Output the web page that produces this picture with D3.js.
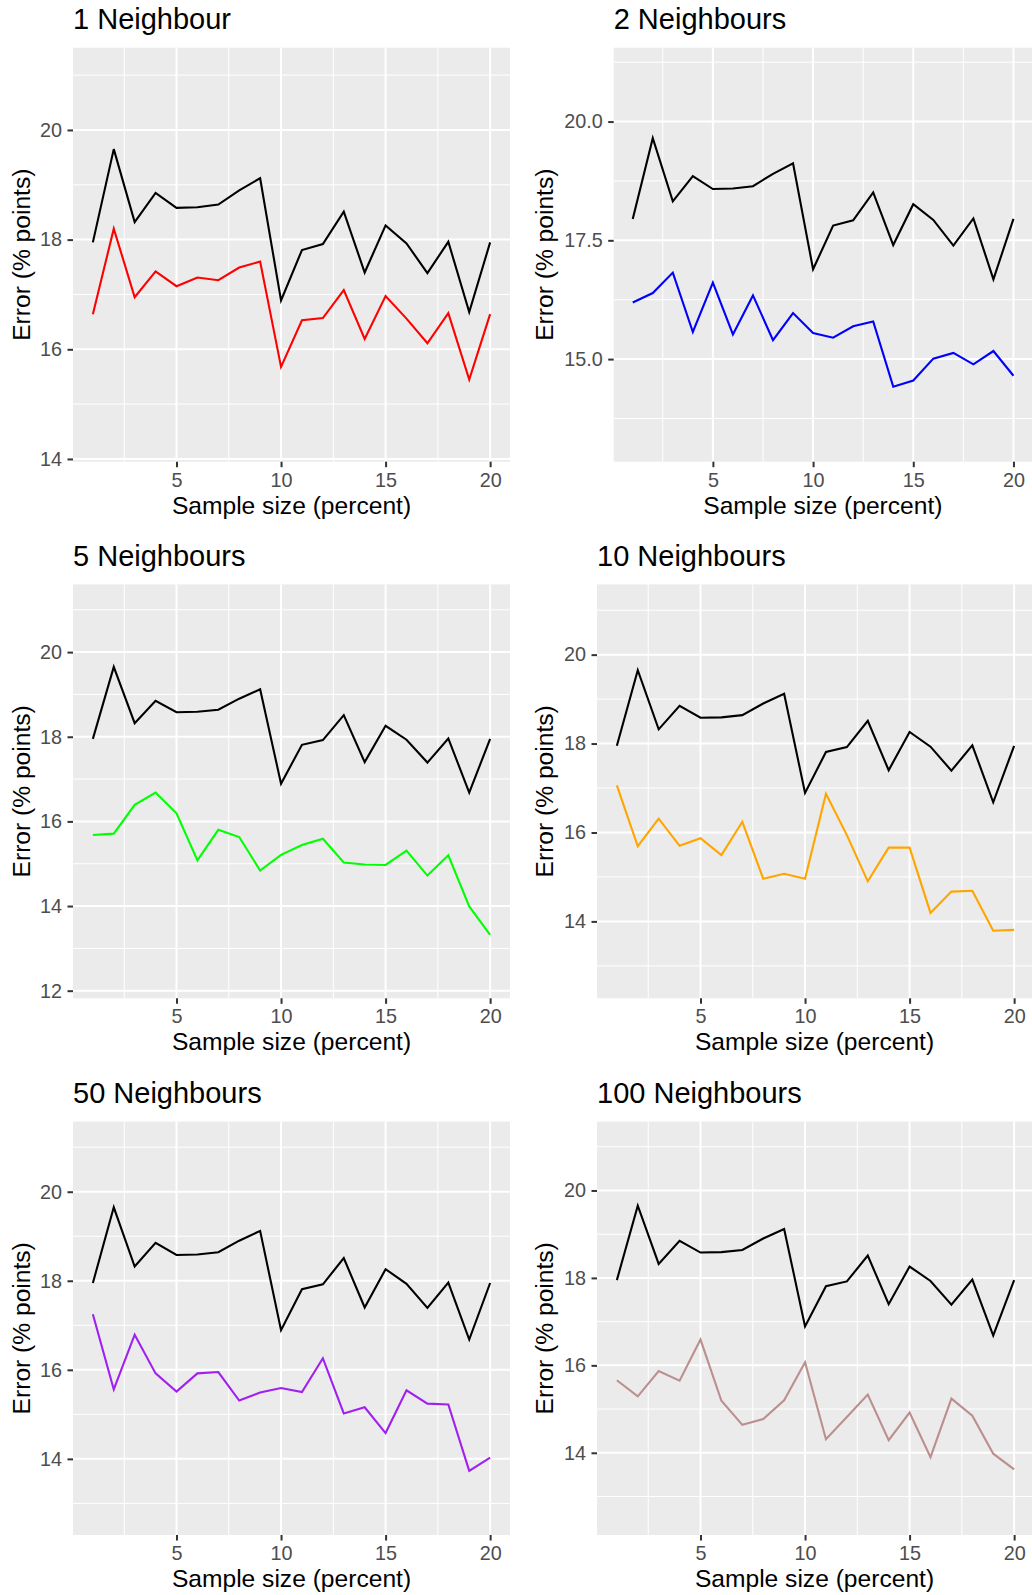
<html>
<head>
<script src="https://d3js.org/d3.v7.min.js"></script>
<style>
  body { margin: 0; background: #fff; }
  text { font-family: "Liberation Sans", Arial, Helvetica, sans-serif; }
  .axis .domain { display: none; }
  .axis line { stroke: #333333; stroke-width: 2; }
  .axis text { fill: #4D4D4D; font-size: 19.8px; }
</style>
</head>
<body>
<svg id="chart" width="1032" height="1595"></svg>
<script>
// sample size (percent) on the x axis
const sampleSize = [1, 2, 3, 4, 5, 6, 7, 8, 9, 10, 11, 12, 13, 14, 15, 16, 17, 18, 19, 20];

// black reference line, same in every panel
const baseError = [17.95, 19.65, 18.32, 18.85, 18.58, 18.59, 18.64, 18.90, 19.12, 16.89,
                   17.81, 17.92, 18.51, 17.40, 18.26, 17.93, 17.39, 17.96, 16.68, 17.95];

// coloured line per number of neighbours
const err1   = [16.64, 18.20, 16.95, 17.42, 17.15, 17.31, 17.26, 17.49, 17.60, 15.68,
                16.53, 16.57, 17.08, 16.19, 16.97, 16.56, 16.11, 16.66, 15.45, 16.64];
const err2   = [16.19, 16.39, 16.82, 15.57, 16.61, 15.52, 16.34, 15.40, 15.97, 15.55,
                15.45, 15.69, 15.79, 14.42, 14.55, 15.01, 15.13, 14.89, 15.17, 14.65];
const err5   = [15.68, 15.71, 16.39, 16.68, 16.19, 15.08, 15.80, 15.63, 14.84, 15.21,
                15.44, 15.59, 15.03, 14.98, 14.97, 15.31, 14.72, 15.20, 13.99, 13.32];
const err10  = [17.06, 15.69, 16.31, 15.70, 15.87, 15.49, 16.24, 14.96, 15.07, 14.96,
                16.87, 15.94, 14.90, 15.66, 15.66, 14.19, 14.67, 14.69, 13.79, 13.81];
const err50  = [17.25, 15.56, 16.79, 15.92, 15.51, 15.92, 15.95, 15.31, 15.49, 15.59,
                15.50, 16.26, 15.02, 15.16, 14.58, 15.54, 15.24, 15.22, 13.73, 14.03];
const err100 = [15.66, 15.29, 15.87, 15.65, 16.59, 15.19, 14.64, 14.77, 15.20, 16.07,
                14.31, 14.82, 15.33, 14.29, 14.92, 13.90, 15.24, 14.85, 13.98, 13.62];

const panelTitles = ["1 Neighbour", "2 Neighbours", "5 Neighbours", "10 Neighbours", "50 Neighbours", "100 Neighbours"];
const lineColors = ["#FF0000", "#0000FF", "#00FF00", "#FFA500", "#A020F0", "#BC8F8F"];
const xTicks = [5, 10, 15, 20];
const yTicks = [[14, 16, 18, 20], [15, 17.5, 20], [12, 14, 16, 18, 20], [14, 16, 18, 20], [14, 16, 18, 20], [14, 16, 18, 20]];
const yLimits = [[13.95, 21.5], [12.84, 21.555], [11.82, 21.6], [12.27, 21.58], [12.29, 21.575], [12.12, 21.575]];
const xLabel = "Sample size (percent)";
const yLabel = "Error (% points)";

const series = [err1, err2, err5, err10, err50, err100];

// panel boxes (pixels)
const rows = [[47.7, 461.7], [584.4, 998.3], [1121.6, 1535]];
const boxes = [
  {left: 73, right: 510, row: 0, ytitle: 29.5},
  {left: 613.7, right: 1032.5, row: 0, ytitle: 552.7},
  {left: 73, right: 510, row: 1, ytitle: 29.5},
  {left: 597, right: 1034, row: 1, ytitle: 552.7},
  {left: 73, right: 510, row: 2, ytitle: 29.5},
  {left: 597, right: 1034, row: 2, ytitle: 552.7}
];

const svg = d3.select("#chart");
svg.append("rect").attr("width", 1032).attr("height", 1595).attr("fill", "#fff");

// minor breaks sit halfway between major ones
function minorsOf(ticks, dom) {
  const step = ticks[1] - ticks[0];
  const out = [];
  for (let v = ticks[0] - step / 2; v <= dom[1]; v += step) {
    if (v >= dom[0]) out.push(v);
  }
  return out;
}

boxes.forEach((b, i) => {
  const top = rows[b.row][0], bottom = rows[b.row][1];
  const xScale = d3.scaleLinear().domain([0.05, 20.95]).range([b.left, b.right]);
  const yScale = d3.scaleLinear().domain(yLimits[i]).range([bottom, top]);
  const g = svg.append("g");

  g.append("rect")
    .attr("x", b.left).attr("y", top)
    .attr("width", b.right - b.left).attr("height", bottom - top)
    .attr("fill", "#EBEBEB");

  // gridlines
  const yMinor = minorsOf(yTicks[i], yLimits[i]);
  const xMinor = minorsOf(xTicks, [0.05, 20.95]);
  g.selectAll(".ymin").data(yMinor).join("line")
    .attr("x1", b.left).attr("x2", b.right)
    .attr("y1", d => yScale(d)).attr("y2", d => yScale(d))
    .attr("stroke", "#fff").attr("stroke-width", 1);
  g.selectAll(".xmin").data(xMinor).join("line")
    .attr("y1", top).attr("y2", bottom)
    .attr("x1", d => xScale(d)).attr("x2", d => xScale(d))
    .attr("stroke", "#fff").attr("stroke-width", 1);
  g.selectAll(".ymaj").data(yTicks[i]).join("line")
    .attr("x1", b.left).attr("x2", b.right)
    .attr("y1", d => yScale(d)).attr("y2", d => yScale(d))
    .attr("stroke", "#fff").attr("stroke-width", 2);
  g.selectAll(".xmaj").data(xTicks).join("line")
    .attr("y1", top).attr("y2", bottom)
    .attr("x1", d => xScale(d)).attr("x2", d => xScale(d))
    .attr("stroke", "#fff").attr("stroke-width", 2);

  // lines
  const lineGen = d3.line()
    .x((d, j) => xScale(sampleSize[j]))
    .y(d => yScale(d));
  g.append("path").attr("d", lineGen(baseError))
    .attr("fill", "none").attr("stroke", "#000").attr("stroke-width", 2.1);
  g.append("path").attr("d", lineGen(series[i]))
    .attr("fill", "none").attr("stroke", lineColors[i]).attr("stroke-width", 2.1);

  // axes
  const fmt = i === 1 ? d3.format(".1f") : d3.format("d");
  g.append("g").attr("class", "axis")
    .attr("transform", `translate(${b.left},0)`)
    .call(d3.axisLeft(yScale).tickValues(yTicks[i]).tickSize(5.5).tickPadding(5.5).tickFormat(fmt));
  g.append("g").attr("class", "axis")
    .attr("transform", `translate(0,${bottom})`)
    .call(d3.axisBottom(xScale).tickValues(xTicks).tickSize(5.5).tickPadding(5.5).tickFormat(d3.format("d")));

  // titles
  g.append("text").attr("x", b.left).attr("y", top - 18.8)
    .attr("font-size", 29).attr("fill", "#000").text(panelTitles[i]);
  g.append("text").attr("x", (b.left + Math.min(b.right, 1032)) / 2).attr("y", bottom + 52)
    .attr("text-anchor", "middle").attr("font-size", 24.6).attr("fill", "#000").text(xLabel);
  g.append("text")
    .attr("transform", `translate(${b.ytitle},${(top + bottom) / 2}) rotate(-90)`)
    .attr("text-anchor", "middle").attr("font-size", 24.6).attr("fill", "#000").text(yLabel);
});
</script>
</body>
</html>
